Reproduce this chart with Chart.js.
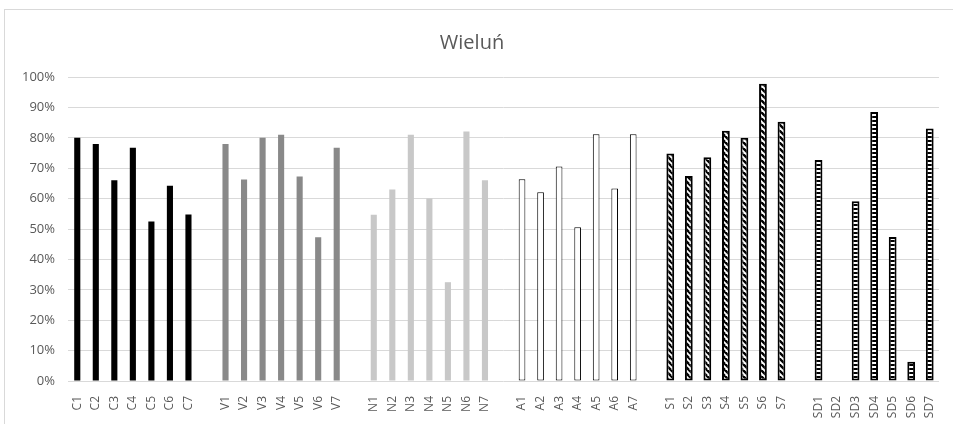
<!DOCTYPE html>
<html>
<head>
<meta charset="utf-8">
<script src="https://cdn.jsdelivr.net/npm/chart.js@4.4.1/dist/chart.umd.min.js"></script>
<style>
  html, body { margin: 0; padding: 0; background: #fff; overflow: hidden; }
  #box { position: absolute; left: 4px; top: 9px; width: 960px; height: 430px;
         border: 1px solid #d9d9d9; background: #fff; }
  #chart { position: absolute; left: 0; top: 0; }
</style>
</head>
<body>
<div id="box"><canvas id="chart" width="950" height="415"></canvas></div>
<script>
// values per group (fraction of 100%)
const cLabels = ["C1", "C2", "C3", "C4", "C5", "C6", "C7"];
const vLabels = ["V1", "V2", "V3", "V4", "V5", "V6", "V7"];
const nLabels = ["N1", "N2", "N3", "N4", "N5", "N6", "N7"];
const aLabels = ["A1", "A2", "A3", "A4", "A5", "A6", "A7"];
const sLabels = ["S1", "S2", "S3", "S4", "S5", "S6", "S7"];
const sdLabels = ["SD1", "SD2", "SD3", "SD4", "SD5", "SD6", "SD7"];

const cValues = [0.80, 0.78, 0.66, 0.767, 0.525, 0.642, 0.548];
const vValues = [0.78, 0.663, 0.80, 0.81, 0.673, 0.473, 0.767];
const nValues = [0.547, 0.63, 0.81, 0.60, 0.325, 0.821, 0.66];
const aValues = [0.664, 0.621, 0.706, 0.506, 0.812, 0.633, 0.812];
const sValues = [0.748, 0.674, 0.736, 0.823, 0.80, 0.978, 0.853];
const sdValues = [0.727, 0, 0.591, 0.885, 0.474, 0.063, 0.831];

function makePattern(kind) {
  var c = document.createElement("canvas");
  var ctx = c.getContext("2d");
  if (kind == "diag") {
    c.width = 6; c.height = 6;
    ctx.fillStyle = "#fff";
    ctx.fillRect(0, 0, 6, 6);
    ctx.strokeStyle = "#000";
    ctx.lineWidth = 2.4;
    ctx.beginPath();
    ctx.moveTo(-3, -3); ctx.lineTo(9, 9);
    ctx.moveTo(-6, 0); ctx.lineTo(0, 6);
    ctx.moveTo(3, -3); ctx.lineTo(9, 3);
    ctx.stroke();
  } else {
    c.width = 4; c.height = 4;
    ctx.fillStyle = "#000";
    ctx.fillRect(0, 0, 4, 4);
    ctx.fillStyle = "#fff";
    ctx.fillRect(0, 0, 4, 2);
  }
  return ctx.createPattern(c, "repeat");
}

const groups = [
  { labels: cLabels, values: cValues, fill: "#000000", border: "#000000", bw: 0, bar: 0.33 },
  { labels: vLabels, values: vValues, fill: "#898989", border: "#898989", bw: 0, bar: 0.33 },
  { labels: nLabels, values: nValues, fill: "#c8c8c8", border: "#c8c8c8", bw: 0, bar: 0.33 },
  { labels: aLabels, values: aValues, fill: "#ffffff", border: "#000000", bw: 1, bar: 0.36 },
  { labels: sLabels, values: sValues, fill: makePattern("diag"), border: "#000000", bw: 2, bar: 0.42 },
  { labels: sdLabels, values: sdValues, fill: makePattern("stripe"), border: "#000000", bw: 2, bar: 0.42 },
];

// one category axis with an empty slot between groups
var labels = [];
var datasets = [];
groups.forEach(function (g, gi) {
  if (gi > 0) labels.push("");
  var start = labels.length;
  g.labels.forEach(function (l) { labels.push(l); });
  datasets.push({ g: g, start: start });
});

datasets = datasets.map(function (d) {
  var data = labels.map(function () { return null; });
  d.g.values.forEach(function (v, i) { data[d.start + i] = v; });
  return {
    data: data,
    backgroundColor: d.g.fill,
    borderColor: d.g.border,
    borderWidth: function (ctx) {
      return ctx.raw ? d.g.bw : 0;
    },
    borderSkipped: false,
    grouped: false,
    skipNull: true,
    barPercentage: d.g.bar,
    categoryPercentage: 1.0,
  };
});

new Chart(document.getElementById("chart"), {
  type: "bar",
  data: { labels: labels, datasets: datasets },
  options: {
    animation: false,
    responsive: false,
    layout: { padding: { left: 0, right: 16, top: 0, bottom: 0 } },
    plugins: {
      legend: { display: false },
      tooltip: { enabled: false },
      title: {
        display: true,
        text: "Wieluń",
        color: "#595959",
        font: { family: "Open Sans", size: 20, weight: "normal" },
        padding: { top: 21, bottom: 22 },
      },
    },
    scales: {
      x: {
        grid: { display: false },
        border: { display: false },
        ticks: {
          autoSkip: false,
          maxRotation: 90,
          minRotation: 90,
          padding: 7,
          color: "#595959",
          font: { family: "Open Sans", size: 12 },
        },
        afterFit: function (scale) {
          scale.height = 44;
        },
      },
      y: {
        min: 0,
        max: 1,
        ticks: {
          stepSize: 0.1,
          padding: 13,
          color: "#595959",
          font: { family: "Open Sans", size: 13 },
          callback: function (v) {
            return Math.round(v * 100) + "%";
          },
        },
        grid: { color: "#d9d9d9", drawTicks: false },
        border: { display: false },
        afterFit: function (scale) {
          scale.width = 63;
        },
      },
    },
  },
});
</script>
</body>
</html>
